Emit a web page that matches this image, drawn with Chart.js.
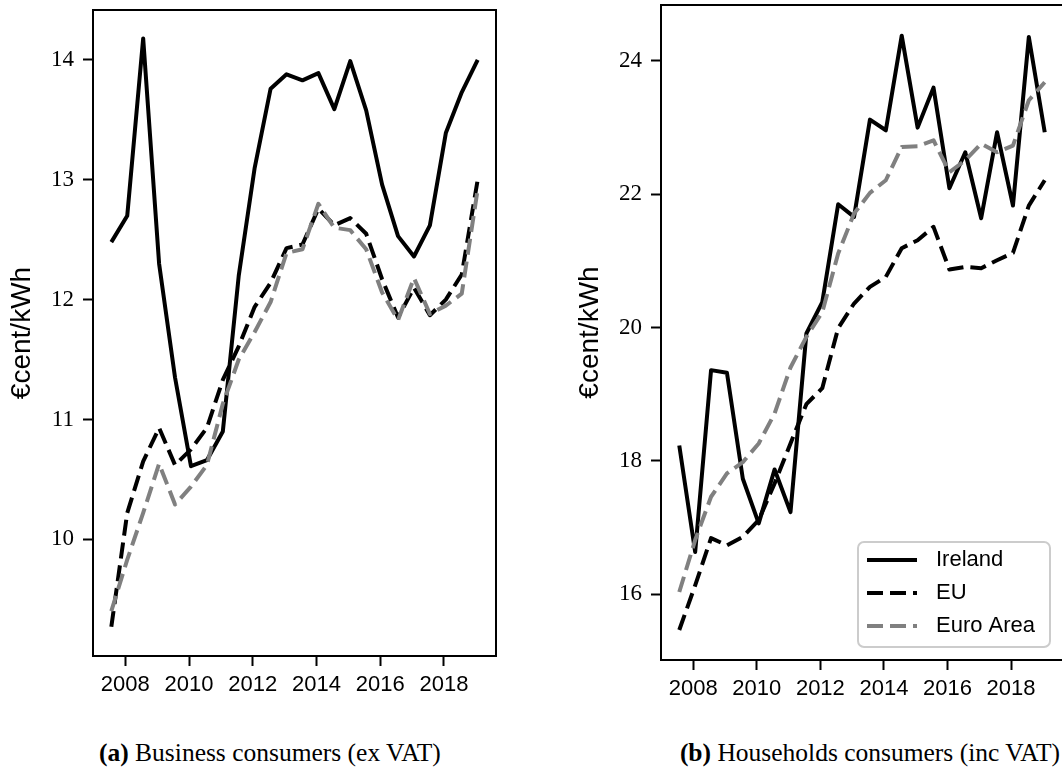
<!DOCTYPE html>
<html>
<head>
<meta charset="utf-8">
<script src="https://cdn.jsdelivr.net/npm/chart.js@4.4.1/dist/chart.umd.min.js"></script>
<style>
  html, body { margin: 0; padding: 0; background: #fff; overflow: hidden; }
  body { width: 1062px; height: 782px; position: relative; }
  canvas { position: absolute; top: 0; }
  #left { left: 0; }
  #right { left: 570px; }
  .caption {
    position: absolute; top: 738px; white-space: nowrap;
    font-family: "Liberation Serif", serif; font-size: 25.5px; color: #000;
  }
</style>
</head>
<body>
<canvas id="left" width="500" height="710"></canvas>
<canvas id="right" width="496" height="710"></canvas>
<div class="caption" style="left:99px"><b>(a)</b> Business consumers (ex VAT)</div>
<div class="caption" style="right:2px"><b>(b)</b> Households consumers (inc VAT)</div>
<script>
// semi-annual periods, as decimal years
const periods = [2007.56, 2008.06, 2008.56, 2009.06, 2009.56, 2010.06, 2010.56, 2011.06,
  2011.56, 2012.06, 2012.56, 2013.06, 2013.56, 2014.06, 2014.56, 2015.06,
  2015.56, 2016.06, 2016.56, 2017.06, 2017.56, 2018.06, 2018.56, 2019.06];

const seriesNames = ['Ireland', 'EU', 'Euro Area'];

const businessIreland = [12.48, 12.70, 14.18, 12.30, 11.35, 10.61, 10.66, 10.90, 12.20, 13.10, 13.76, 13.88,
  13.83, 13.89, 13.59, 13.99, 13.58, 12.96, 12.53, 12.36, 12.62, 13.39, 13.73, 14.00];
const businessEU = [9.27, 10.22, 10.65, 10.93, 10.62, 10.75, 10.93, 11.33, 11.61, 11.94, 12.14, 12.43,
  12.46, 12.76, 12.62, 12.68, 12.55, 12.17, 11.85, 12.10, 11.87, 12.00, 12.21, 13.00];
const businessEuroArea = [9.40, 9.83, 10.22, 10.63, 10.29, 10.44, 10.62, 11.13, 11.50, 11.73, 11.98, 12.39,
  12.42, 12.80, 12.60, 12.58, 12.42, 12.06, 11.83, 12.18, 11.88, 11.95, 12.05, 12.92];

const householdIreland = [18.23, 16.63, 19.36, 19.32, 17.73, 17.06, 17.87, 17.23, 19.91, 20.38, 21.85, 21.66,
  23.12, 22.96, 24.38, 23.00, 23.60, 22.09, 22.63, 21.64, 22.93, 21.83, 24.36, 22.93];
const householdEU = [15.46, 16.13, 16.84, 16.73, 16.86, 17.11, 17.66, 18.26, 18.85, 19.09, 19.99, 20.36,
  20.61, 20.76, 21.19, 21.31, 21.51, 20.87, 20.91, 20.89, 21.01, 21.12, 21.83, 22.21];
const householdEuroArea = [16.03, 16.81, 17.46, 17.81, 17.98, 18.26, 18.71, 19.40, 19.86, 20.23, 21.11, 21.71,
  22.02, 22.21, 22.71, 22.72, 22.81, 22.33, 22.51, 22.76, 22.63, 22.73, 23.41, 23.68];

const yearTicks = [2008, 2010, 2012, 2014, 2016, 2018];
const businessTicks = [10, 11, 12, 13, 14];
const householdTicks = [16, 18, 20, 22, 24];

const lineStyles = [
  { color: '#000000', dash: [], order: 3 },
  { color: '#000000', dash: [16, 7], order: 2 },
  { color: '#808080', dash: [16, 7], order: 1 }
];

const sansFont = { family: 'Liberation Sans', size: 22 };
const titleFont = { family: 'Liberation Sans', size: 28 };
const serifFont = { family: 'Liberation Serif', size: 23 };

// box round the plot, like matplotlib spines
const framePlugin = {
  id: 'frame',
  afterDatasetsDraw(chart) {
    const { ctx, chartArea: a } = chart;
    ctx.save();
    ctx.strokeStyle = '#000';
    ctx.lineWidth = 2;
    ctx.strokeRect(a.left, a.top, a.right - a.left, a.bottom - a.top);
    ctx.restore();
  }
};

// legend in the lower right corner of the plot
const boxLegend = {
  id: 'boxLegend',
  afterDraw(chart, args, opts) {
    if (!opts.show) return;
    const { ctx, chartArea: a } = chart;
    const w = 192, h = 105;
    const x = a.right - 13 - w, y = a.bottom - 13 - h;
    ctx.save();
    ctx.beginPath();
    ctx.roundRect(x, y, w, h, 6);
    ctx.fillStyle = 'rgba(255,255,255,0.8)';
    ctx.fill();
    ctx.strokeStyle = '#cccccc';
    ctx.lineWidth = 2;
    ctx.stroke();
    chart.data.datasets.forEach((ds, i) => {
      const ly = y + 18 + i * 33;
      ctx.beginPath();
      ctx.setLineDash(ds.borderDash);
      ctx.lineWidth = ds.borderWidth;
      ctx.strokeStyle = ds.borderColor;
      ctx.moveTo(x + 9, ly);
      ctx.lineTo(x + 59, ly);
      ctx.stroke();
      ctx.setLineDash([]);
      ctx.fillStyle = '#000';
      ctx.font = '22px "Liberation Sans"';
      ctx.textBaseline = 'middle';
      ctx.fillText(ds.label, x + 78, ly);
    });
    ctx.restore();
  }
};

function makeChart(id, series, yTicks, yMin, yMax, box) {
  const datasets = series.map((values, i) => ({
    label: seriesNames[i],
    data: periods.map((p, j) => ({ x: p, y: values[j] })),
    borderColor: lineStyles[i].color,
    borderDash: lineStyles[i].dash,
    borderWidth: 4,
    borderJoinStyle: 'round',
    borderCapStyle: 'butt',
    pointRadius: 0,
    tension: 0,
    fill: false,
    order: lineStyles[i].order
  }));

  return new Chart(document.getElementById(id), {
    type: 'line',
    data: { datasets: datasets },
    options: {
      responsive: false,
      animation: false,
      devicePixelRatio: 1,
      layout: { padding: { top: box.top, right: box.right, left: 0, bottom: 0 } },
      plugins: {
        legend: { display: false },
        tooltip: { enabled: false },
        boxLegend: { show: box.legend }
      },
      scales: {
        x: {
          type: 'linear',
          min: 2006.985,
          max: 2019.635,
          afterBuildTicks: s => { s.ticks = yearTicks.map(v => ({ value: v })); },
          afterFit: s => {
            s.height = box.xHeight;
            s.paddingLeft = 0; s.paddingRight = 0;
          },
          grid: { drawOnChartArea: false, drawTicks: true, tickLength: 10, tickWidth: 2, tickColor: '#000' },
          border: { display: true, color: '#000', width: 2 },
          ticks: {
            color: '#000', font: sansFont, padding: 6,
            maxRotation: 0, autoSkip: false,
            callback: v => String(v)
          }
        },
        y: {
          type: 'linear',
          min: yMin,
          max: yMax,
          afterBuildTicks: s => { s.ticks = yTicks.map(v => ({ value: v })); },
          afterFit: s => {
            s.width = box.yWidth;
            s.paddingTop = 0; s.paddingBottom = 0;
          },
          grid: { drawOnChartArea: false, drawTicks: true, tickLength: 10, tickWidth: 2, tickColor: '#000' },
          border: { display: true, color: '#000', width: 2 },
          ticks: { color: '#000', font: serifFont, padding: 9, callback: v => String(v) },
          title: {
            display: true, text: '€cent/kWh', color: '#000',
            font: titleFont, padding: { top: box.titlePad, bottom: 0 }
          }
        }
      }
    },
    plugins: [framePlugin, boxLegend]
  });
}

makeChart('left', [businessIreland, businessEU, businessEuroArea], businessTicks, 9.026, 14.417,
  { top: 10, right: 4, xHeight: 54, yWidth: 93, titlePad: 5, legend: false });
makeChart('right', [householdIreland, householdEU, householdEuroArea], householdTicks, 15.01, 24.84,
  { top: 5, right: 3, xHeight: 50, yWidth: 91, titlePad: 3, legend: true });
</script>
</body>
</html>
